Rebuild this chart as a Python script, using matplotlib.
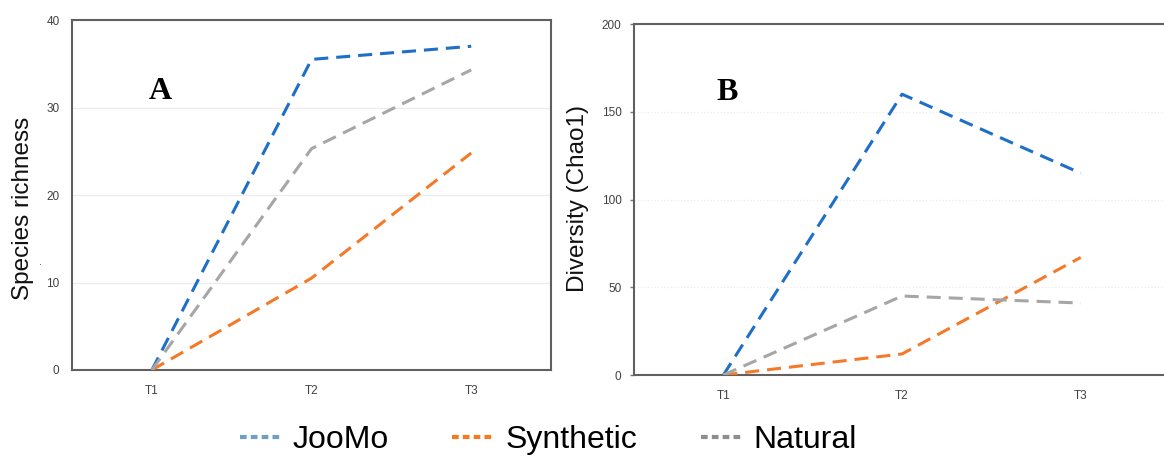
import matplotlib.pyplot as plt
from matplotlib.lines import Line2D

times = ["T1", "T2", "T3"]

# panel A: species richness
rich_joomo = [0, 35.5, 37.0]
rich_synthetic = [0, 10.5, 24.8]
rich_natural = [0, 25.3, 34.3]

# panel B: Chao1 diversity
chao_joomo = [0, 160, 115]
chao_synthetic = [0, 12, 67]
chao_natural = [0, 45, 41]

series = ["JooMo", "Synthetic", "Natural"]
line_colors = ["#1f6fc8", "#f47a2a", "#a6a6a6"]
legend_colors = ["#6f9fc4", "#f47a20", "#8e8e8e"]

plt.rcParams['font.family'] = ['Liberation Sans', 'DejaVu Sans']

fig = plt.figure(figsize=(11.64, 4.59), dpi=100)
axA = fig.add_axes([0.0619, 0.1939, 0.4115, 0.7625])
axB = fig.add_axes([0.5447, 0.1830, 0.4605, 0.7647])

x = range(len(times))
panels = [
    (axA, [rich_joomo, rich_synthetic, rich_natural], 40, [0, 10, 20, 30, 40],
     "Species richness", "A", (0.184, 0.797), "-", (-0.079, 0.463)),
    (axB, [chao_joomo, chao_synthetic, chao_natural], 200, [0, 50, 100, 150, 200],
     "Diversity (Chao1)", "B", (0.1735, 0.806), ":", (-0.084, 0.504)),
]

for ax, data, ymax, yticks, ylabel, tag, tagpos, gridstyle, labpos in panels:
    for vals, c in zip(data, line_colors):
        ax.plot(x, vals, color=c, lw=2.2, dashes=(4.6, 2.6), solid_capstyle='butt',
                dash_capstyle='butt', zorder=3)
    ax.set_xlim(-0.5, 2.5)
    ax.set_ylim(0, ymax)
    ax.set_xticks(list(x))
    ax.set_xticklabels(times)
    ax.set_yticks(yticks)
    ax.grid(axis='y', color='#ececec', lw=0.9, ls=gridstyle, zorder=0)
    ax.tick_params(axis='x', length=0, pad=11, labelsize=8.5, labelcolor='#404040')
    ax.tick_params(axis='y', length=3 if tag == "B" else 0, width=1, color='#777777',
                   pad=6 if tag == "B" else 9, labelsize=8.5, labelcolor='#404040')
    for s in ax.spines.values():
        s.set_color('#606060')
        s.set_linewidth(1.5)
    ax.set_ylabel(ylabel, fontsize=17.5, color='#111111')
    ax.yaxis.set_label_coords(*labpos)
    ax.text(tagpos[0], tagpos[1], tag, transform=ax.transAxes, ha='center', va='center',
            fontsize=23, fontweight='bold', family=['Liberation Serif', 'DejaVu Serif'])

fig.text(41 / 1164, 1 - 262 / 459, ".", fontsize=8, color='#444444', ha='center', va='center')

handles = [Line2D([], [], color=c, lw=3, dashes=(1.6, 1.0)) for c in legend_colors]
fig.legend(handles, series, loc='center', bbox_to_anchor=(0.471, 0.041), ncol=3,
           frameon=False, fontsize=23, handlelength=1.3, handletextpad=0.35,
           columnspacing=2.0, borderpad=0)

fig.savefig("out.png", dpi=100)
